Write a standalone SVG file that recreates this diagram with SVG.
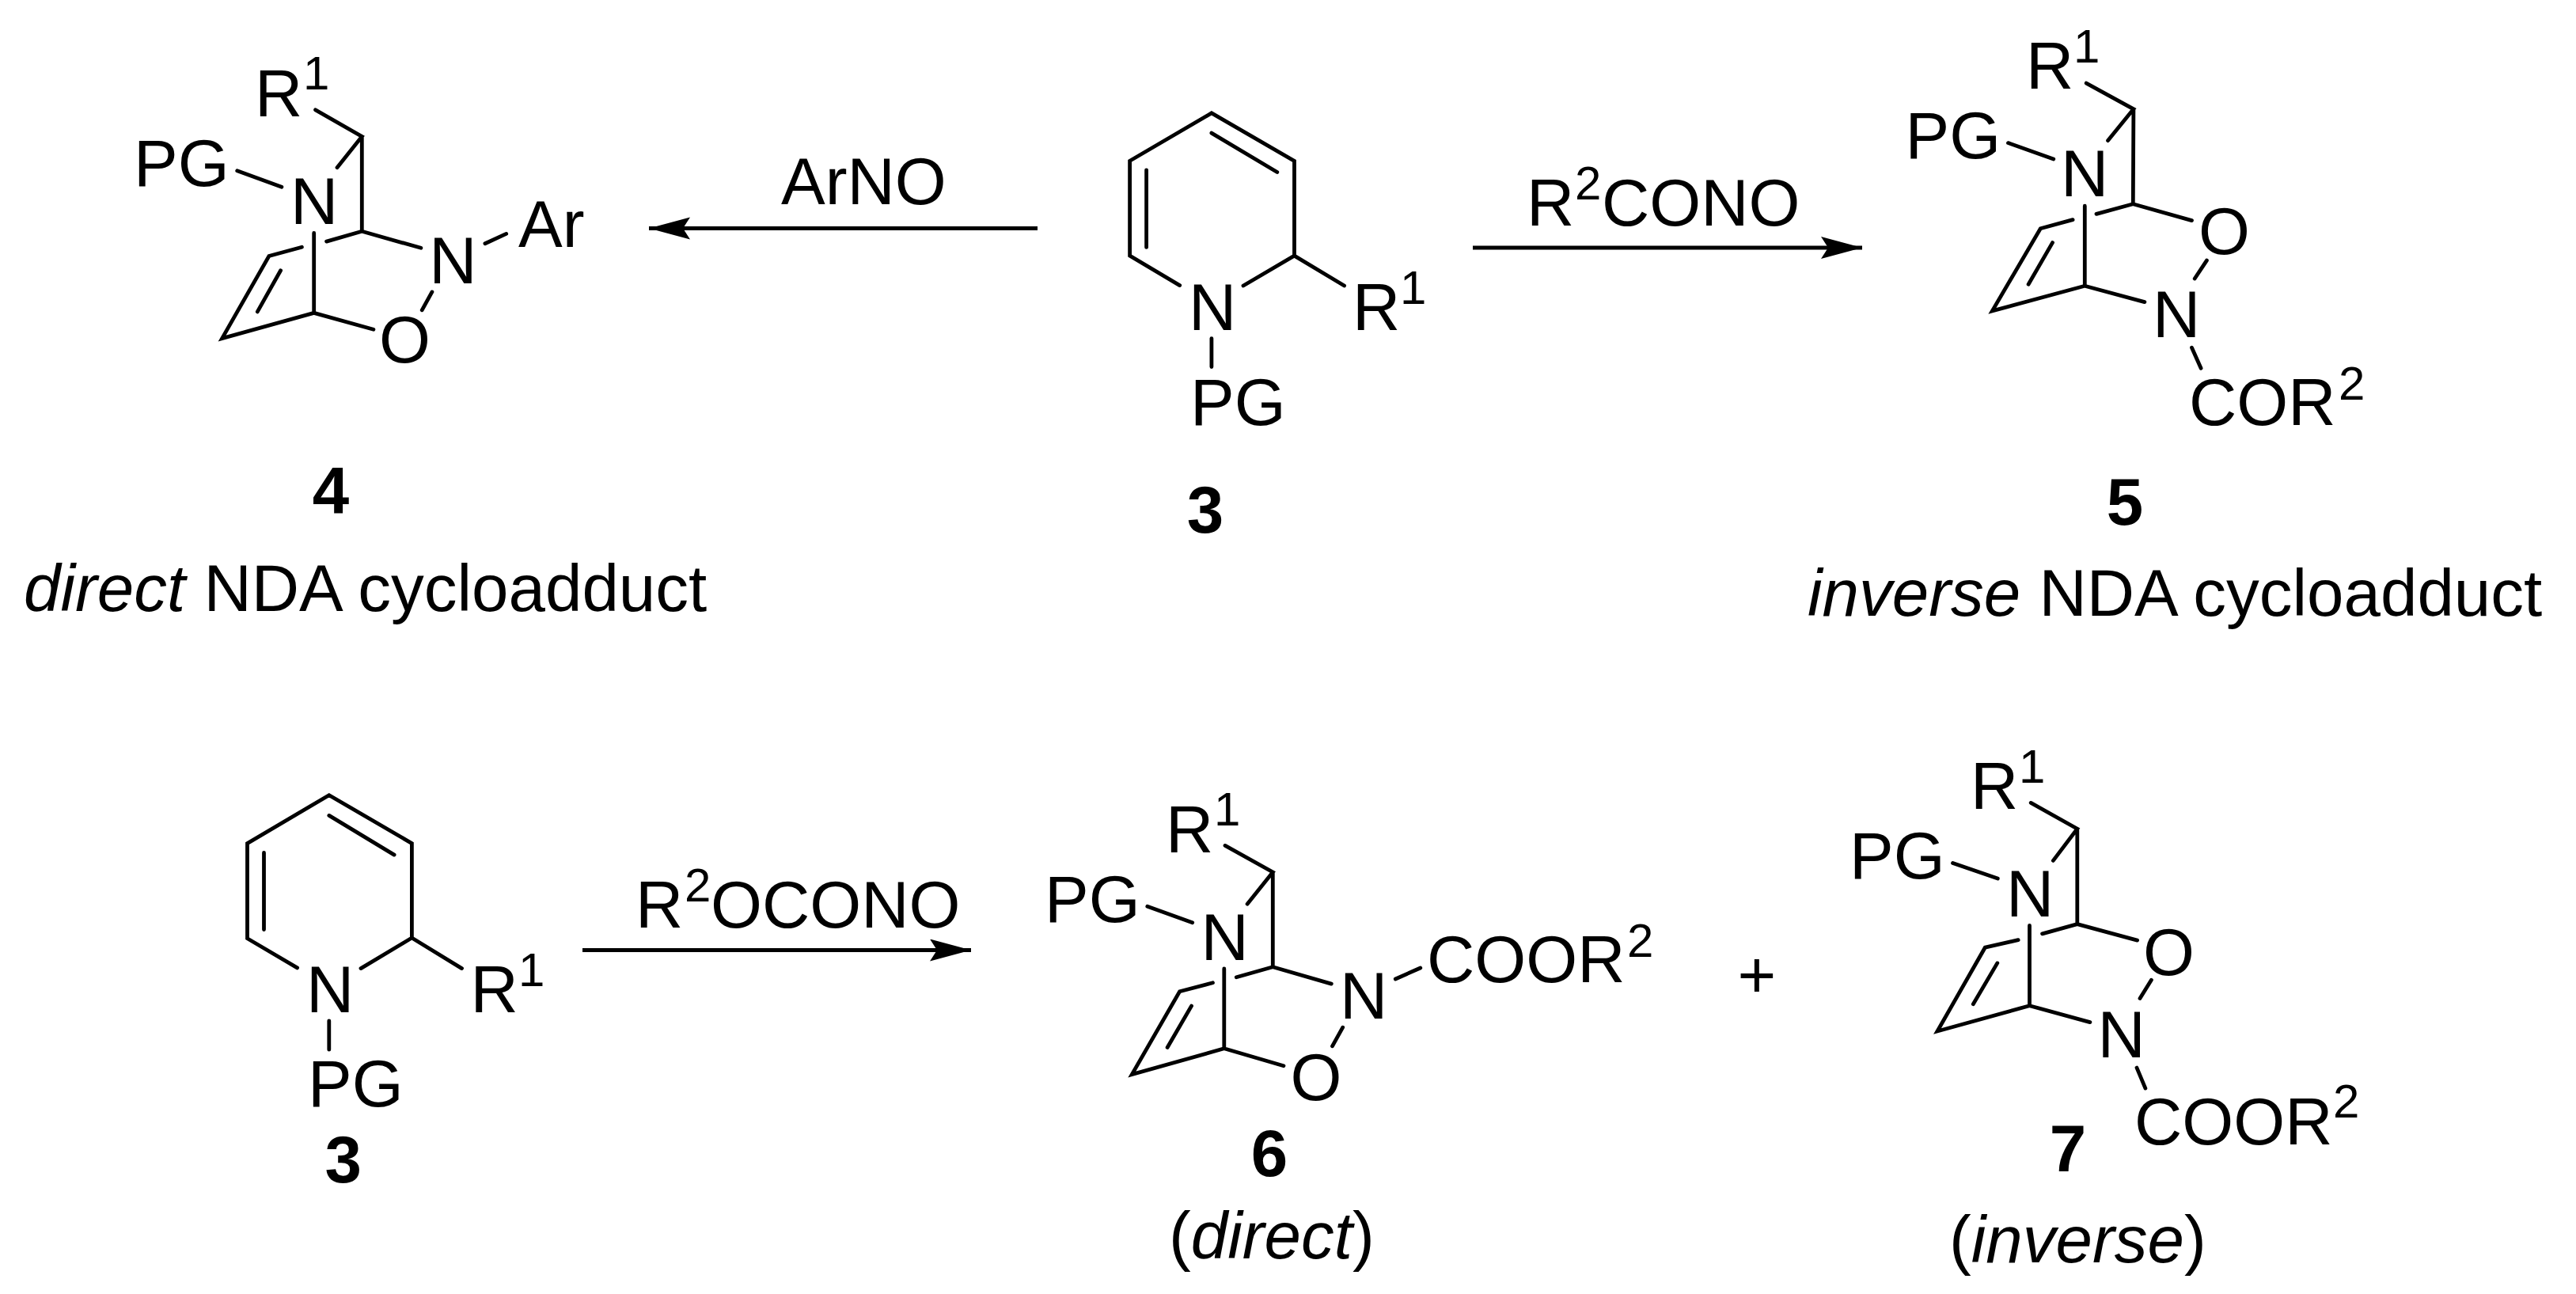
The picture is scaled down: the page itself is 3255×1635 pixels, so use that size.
<svg xmlns="http://www.w3.org/2000/svg" width="3255" height="1635" viewBox="0 0 3255 1635">
<style>
text{font-family:"Liberation Sans",Arial,sans-serif;font-size:83.500px;fill:#000}
.s{font-size:60px}
.n{font-weight:bold;text-anchor:middle}
.i{font-style:italic}
.b{fill:none;stroke:#000;stroke-width:4.800;stroke-linecap:round;stroke-linejoin:miter}
.a{fill:none;stroke:#000;stroke-width:5}
</style>
<defs>
<marker id="h" markerUnits="userSpaceOnUse" markerWidth="54" markerHeight="30" refX="52" refY="14" orient="auto"><path d="M0 0L52 14L0 28L9 14Z" fill="#000"/></marker>
</defs>
<rect width="3255" height="1635" fill="#fff"/>
<g id="connectors">
<path class="a" marker-end="url(#h)" d="M1311 288.500H820"/>
<path class="a" marker-end="url(#h)" d="M1861 313H2353"/>
<path class="a" marker-end="url(#h)" d="M736 1200.500H1227"/>
</g>
<g id="compound-4">
<path class="b" d="M398.600 138.800L457.300 172.400L426 211.700M457.300 172.400V292.300L412.600 305.100M381.400 312.200L339.900 323.500L280.600 427.600L396.700 395.400V294.400M354.600 341.800L325.300 393.900M396.700 395.400L471.900 416.300M457.300 292.300L531.900 313.300M545.900 368.900L533.200 391.800M612.900 307.700L639.700 295.400M299.700 215.800L355.900 236.200"/>
<text x="322" y="147">R<tspan class="s" x="383" y="113">1</tspan></text>
<text x="169" y="235">PG</text>
<text x="367" y="283">N</text>
<text x="542.300" y="357.500">N</text>
<text x="479" y="458">O</text>
<text x="655" y="311.500">Ar</text>
<text class="n" x="418" y="649">4</text>
<text x="30" y="772"><tspan class="i">direct</tspan> NDA cycloadduct</text>
</g>
<g id="compound-3-top">
<path class="b" d="M1490.700 360.600L1427.600 323.100V203.300L1530.900 142.900L1635.500 203.300V323.100L1571 361M1635.500 323.100L1698.600 361M1448.600 214.800V312.400M1530.900 168.100L1613.800 217.500M1530.900 427.600V463.600"/>
<text x="1502" y="417">N</text>
<text x="1709" y="417">R<tspan class="s" x="1769" y="384">1</tspan></text>
<text x="1504" y="536.500">PG</text>
<text class="n" x="1523" y="673">3</text>
</g>
<g id="label-arno"><text x="987" y="258">ArNO</text></g>
<g id="label-r2cono"><text x="1929" y="284.500">R<tspan class="s" x="1990" y="252">2</tspan><tspan x="2024" y="284.500">CONO</tspan></text></g>
<g id="compound-5">
<path class="b" d="M2636.200 105.100L2695.900 137.800L2663.600 177.600M2695.900 137.800L2695.300 257.700L2649 270.400M2619.100 277.600L2578.300 288.800L2517.400 392.900L2634.300 361.200V260.200M2593.500 306.600L2563.100 359.200M2634.300 361.200L2709.900 381.600M2695.300 257.700L2769.500 278.600M2788.400 329.100L2773.200 352M2769.500 439.300L2781.100 465.300M2537.500 180.600L2594.800 201"/>
<text x="2560" y="112">R<tspan class="s" x="2620" y="78.500">1</tspan></text>
<text x="2407.500" y="199.500">PG</text>
<text x="2604" y="248">N</text>
<text x="2778" y="320.500">O</text>
<text x="2720" y="425.500">N</text>
<text x="2766" y="536.500">COR<tspan class="s" x="2955" y="504.500">2</tspan></text>
<text class="n" x="2685" y="663">5</text>
<text x="2284" y="777.500"><tspan class="i">inverse</tspan> NDA cycloadduct</text>
</g>
<g id="compound-3-bottom">
<path class="b" d="M375.600 1222.900L312.500 1185.700V1065.600L415.800 1004.700L520.400 1065.600V1185L456 1223.600M520.400 1185L583.500 1223.600M333.500 1077.400V1174.600M415.800 1030.400L498.100 1080.100M415.800 1289.800V1326.200"/>
<text x="387" y="1279">N</text>
<text x="594.500" y="1279">R<tspan class="s" x="655" y="1246">1</tspan></text>
<text x="389" y="1398">PG</text>
<text class="n" x="433.700" y="1494">3</text>
</g>
<g id="label-r2ocono"><text x="803" y="1171.500">R<tspan class="s" x="865" y="1139">2</tspan><tspan x="898" y="1171.500">OCONO</tspan></text></g>
<g id="compound-6">
<path class="b" d="M1548 1068.400L1608.300 1102L1576.100 1142.200M1608.300 1102V1221.700L1562.300 1234.800M1532.500 1241.800L1490.600 1252.800L1430.300 1357.600L1546.800 1324.800V1223.900M1505.500 1271.100L1475.100 1323.500M1546.800 1324.800L1622 1346.700M1608.300 1221.700L1682.300 1243.100M1696.700 1298.200L1683.500 1321.800M1763.300 1237L1794.800 1223M1449.800 1145.300L1506.700 1165.800"/>
<text x="1473" y="1076.500">R<tspan class="s" x="1534" y="1043">1</tspan></text>
<text x="1320" y="1164.500">PG</text>
<text x="1517.500" y="1213">N</text>
<text x="1693" y="1287">N</text>
<text x="1630.500" y="1389.500">O</text>
<text x="1803" y="1241">COOR<tspan class="s" x="2056" y="1208.500">2</tspan></text>
<text class="n" x="1604" y="1486">6</text>
<text x="1477" y="1589.500">(<tspan class="i">direct</tspan>)</text>
</g>
<g id="plus"><text x="2220" y="1260" text-anchor="middle">+</text></g>
<g id="compound-7">
<path class="b" d="M2566.200 1014.400L2624.800 1047.200L2594.400 1087.400M2624.800 1047.200V1167.600L2580.600 1179.900M2550.200 1187.700L2508.300 1197.200L2448 1303L2564.500 1270.700V1169.400M2523.800 1216.900L2493.300 1268.800M2564.500 1270.700L2640.900 1291.600M2624.800 1167.600L2700.600 1188.100M2718.400 1238.300L2704 1261.500M2700 1349.100L2710.900 1375.100M2467.500 1090.500L2524.300 1110.100"/>
<text x="2490" y="1021.500">R<tspan class="s" x="2551" y="988.500">1</tspan></text>
<text x="2337" y="1109.500">PG</text>
<text x="2535" y="1158">N</text>
<text x="2708" y="1231.500">O</text>
<text x="2650.500" y="1335.500">N</text>
<text x="2697" y="1445.500">COOR<tspan class="s" x="2948" y="1412">2</tspan></text>
<text class="n" x="2613" y="1480">7</text>
<text x="2463" y="1595">(<tspan class="i">inverse</tspan>)</text>
</g>
</svg>
